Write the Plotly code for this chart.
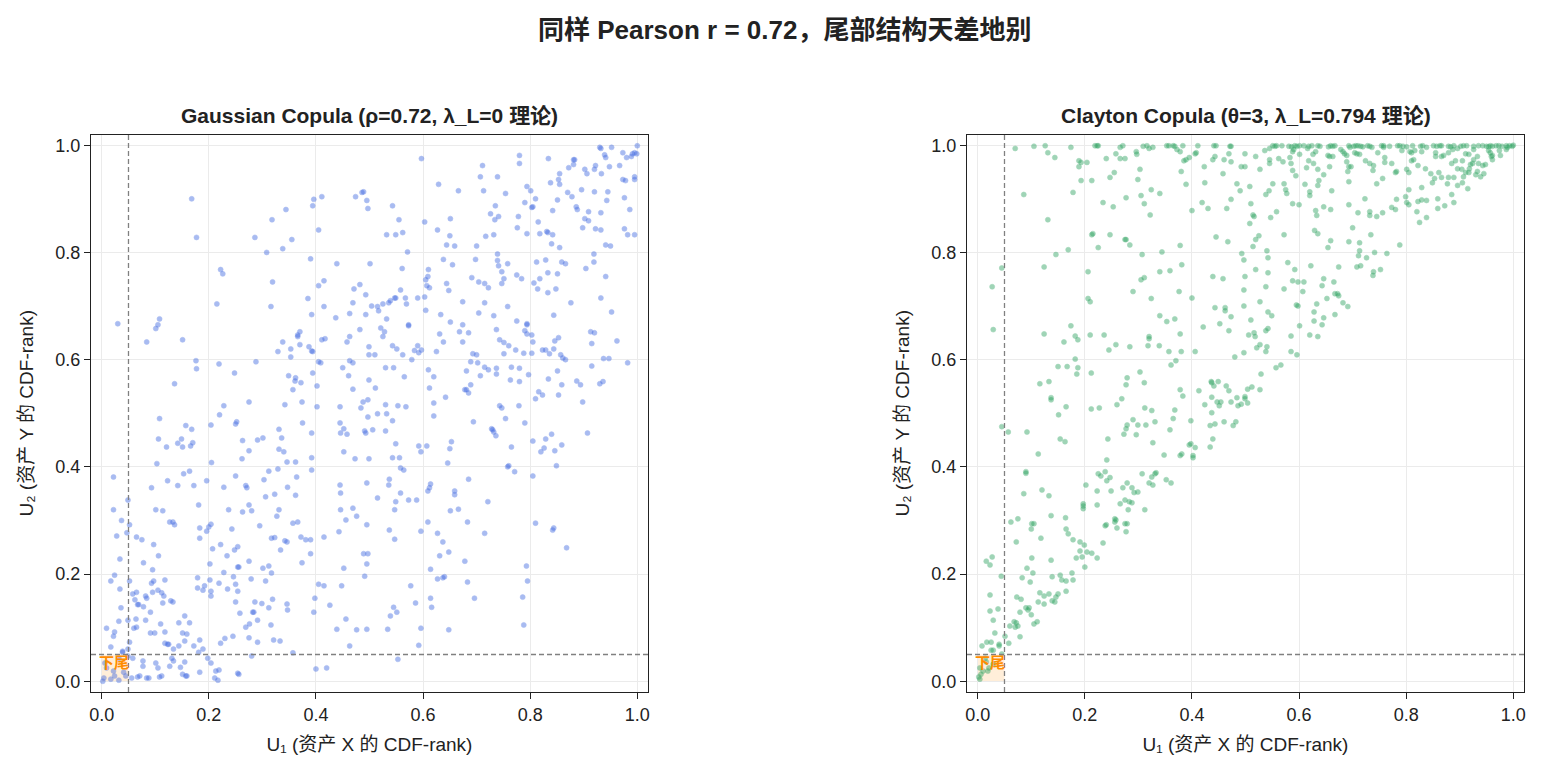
import plotly.graph_objects as go

# ---- text ----
SUPTITLE = "同样 Pearson r = 0.72，尾部结构天差地别"
PANEL_TITLES = ["Gaussian Copula (ρ=0.72, λ_L=0 理论)",
                "Clayton Copula (θ=3, λ_L=0.794 理论)"]
X_LABEL = "U₁ (资产 X 的 CDF-rank)"
Y_LABEL = "U₂ (资产 Y 的 CDF-rank)"
TAIL_LABEL = "下尾"
TAIL_Q = 0.05
TICKS = [0.0, 0.2, 0.4, 0.6, 0.8, 1.0]

# ---- Gaussian copula sample (in groups) ----
g_u1_a = [0.168, 0.177, 0.286, 0.318, 0.344, 0.355, 0.338, 0.308, 0.394, 0.396, 0.411, 0.405, 0.390, 0.439, 0.474, 0.486, 0.489, 0.495, 0.497,
          0.222, 0.226, 0.319, 0.215, 0.316, 0.415, 0.405, 0.385, 0.415, 0.392, 0.437, 0.471, 0.482, 0.493, 0.469, 0.463, 0.493, 0.482, 0.463, 0.458,
          0.030, 0.108, 0.105, 0.101, 0.084, 0.151, 0.370, 0.366, 0.366, 0.338, 0.329, 0.353, 0.370, 0.353, 0.387, 0.392, 0.394, 0.411, 0.417,
          0.176, 0.177, 0.219, 0.288, 0.248, 0.136, 0.349, 0.362, 0.361, 0.372, 0.357, 0.394, 0.402, 0.405, 0.409, 0.450, 0.461, 0.463, 0.469, 0.469, 0.499, 0.499, 0.499,
          0.228, 0.275, 0.342, 0.374, 0.402, 0.445, 0.488, 0.484, 0.497, 0.501]
g_u2_a = [0.900, 0.828, 0.828, 0.861, 0.880, 0.824, 0.807, 0.800, 0.887, 0.899, 0.904, 0.842, 0.788, 0.779, 0.904, 0.912, 0.913, 0.897, 0.882,
          0.768, 0.760, 0.745, 0.704, 0.699, 0.747, 0.738, 0.714, 0.699, 0.684, 0.678, 0.732, 0.740, 0.721, 0.706, 0.686, 0.684, 0.656, 0.643, 0.633,
          0.667, 0.676, 0.665, 0.658, 0.633, 0.637, 0.652, 0.646, 0.643, 0.633, 0.615, 0.620, 0.628, 0.605, 0.624, 0.616, 0.615, 0.637, 0.639,
          0.598, 0.583, 0.592, 0.596, 0.575, 0.555, 0.570, 0.566, 0.560, 0.557, 0.544, 0.575, 0.551, 0.596, 0.594, 0.585, 0.570, 0.598, 0.594, 0.545, 0.624, 0.609, 0.562,
          0.514, 0.521, 0.516, 0.521, 0.512, 0.512, 0.521, 0.510, 0.525, 0.779]

g_u1_b = [0.930, 0.932, 0.952, 1.000, 0.995, 0.999, 0.991, 0.989, 0.980, 0.973, 0.939, 0.941, 0.933, 0.948, 0.967, 0.973, 0.978, 0.995, 0.995,
          0.976, 0.986, 0.982, 0.995, 0.976, 0.941, 0.950, 0.932, 0.922, 0.932, 0.943, 0.945, 0.920, 0.922, 0.920, 0.902, 0.906, 0.896, 0.881, 0.883,
          0.881, 0.872, 0.855, 0.853, 0.855, 0.838, 0.834, 0.780, 0.780,
          0.870, 0.878, 0.851, 0.886, 0.888, 0.909, 0.902, 0.909, 0.898, 0.842, 0.815, 0.831, 0.833, 0.842, 0.818, 0.840, 0.855, 0.794, 0.801, 0.810,
          0.790, 0.803, 0.805, 0.778, 0.776, 0.794,
          0.754, 0.739, 0.735, 0.741, 0.734, 0.726, 0.732, 0.717, 0.711, 0.707, 0.713, 0.666, 0.629, 0.597, 0.651, 0.627, 0.650, 0.644, 0.659, 0.700,
          0.603, 0.543, 0.555, 0.532, 0.549, 0.562]
g_u2_b = [0.996, 0.994, 0.996, 0.999, 0.986, 0.984, 0.984, 0.979, 0.977, 0.986, 0.982, 0.977, 0.947, 0.960, 0.962, 0.936, 0.934, 0.941, 0.936,
          0.902, 0.880, 0.833, 0.833, 0.844, 0.814, 0.812, 0.842, 0.844, 0.874, 0.897, 0.913, 0.913, 0.962, 0.955, 0.955, 0.947, 0.917, 0.973, 0.973,
          0.964, 0.958, 0.947, 0.936, 0.927, 0.930, 0.975, 0.981, 0.966,
          0.912, 0.904, 0.898, 0.885, 0.880, 0.876, 0.863, 0.859, 0.846, 0.878, 0.857, 0.839, 0.837, 0.833, 0.835, 0.816, 0.809, 0.923, 0.915, 0.900,
          0.893, 0.884, 0.885, 0.867, 0.846, 0.835,
          0.910, 0.941, 0.887, 0.867, 0.861, 0.872, 0.833, 0.830, 0.962, 0.941, 0.915, 0.915, 0.927, 0.975, 0.863, 0.842, 0.831, 0.814, 0.812, 0.812,
          0.857, 0.887, 0.861, 0.833, 0.833, 0.837]

g_u1_c = [0.571, 0.561, 0.638, 0.655, 0.610, 0.609, 0.605, 0.607, 0.612, 0.698, 0.739, 0.739, 0.741, 0.758, 0.747, 0.751, 0.747, 0.775, 0.784, 0.691,
          0.704, 0.715, 0.722, 0.644, 0.648, 0.674, 0.715, 0.704, 0.732, 0.758,
          0.812, 0.829, 0.833, 0.851, 0.859, 0.866, 0.818, 0.807, 0.814, 0.833, 0.848, 0.876, 0.844, 0.904, 0.919, 0.919, 0.941, 0.932, 0.952,
          0.775, 0.794, 0.794, 0.790, 0.794, 0.803, 0.805, 0.737, 0.743, 0.751, 0.760, 0.773, 0.788, 0.803, 0.751, 0.823, 0.829, 0.836, 0.844, 0.846,
          0.853, 0.857, 0.861, 0.866, 0.913, 0.920, 0.915, 0.962, 0.937, 0.947, 0.982, 0.915]
g_u2_c = [0.801, 0.770, 0.787, 0.777, 0.768, 0.755, 0.749, 0.738, 0.734, 0.787, 0.797, 0.785, 0.775, 0.779, 0.764, 0.751, 0.742, 0.758, 0.751, 0.753,
          0.745, 0.742, 0.734, 0.742, 0.729, 0.708, 0.706, 0.687, 0.682, 0.699,
          0.782, 0.786, 0.762, 0.760, 0.782, 0.779, 0.751, 0.743, 0.732, 0.725, 0.732, 0.706, 0.683, 0.770, 0.782, 0.797, 0.755, 0.715, 0.689,
          0.672, 0.665, 0.667, 0.654, 0.648, 0.646, 0.633, 0.656, 0.637, 0.632, 0.626, 0.618, 0.612, 0.612, 0.611, 0.618, 0.618, 0.611, 0.620, 0.635,
          0.641, 0.609, 0.603, 0.600, 0.652, 0.650, 0.630, 0.635, 0.602, 0.602, 0.594, 0.588]

g_u1_d = [0.851, 0.834, 0.797, 0.763, 0.780, 0.765, 0.780, 0.737, 0.737, 0.715, 0.722, 0.707, 0.689, 0.702, 0.681, 0.693, 0.700, 0.689, 0.678, 0.681,
          0.685, 0.642, 0.620, 0.610, 0.620, 0.612, 0.625,
          0.638, 0.631, 0.651, 0.674, 0.668, 0.685, 0.674, 0.633, 0.605, 0.603, 0.590, 0.567, 0.569, 0.549, 0.547, 0.558, 0.536, 0.539, 0.525, 0.515,
          0.517, 0.504, 0.532, 0.521, 0.528, 0.525, 0.573, 0.573,
          0.543, 0.551, 0.510, 0.562, 0.579, 0.584, 0.590, 0.592, 0.597, 0.530, 0.545, 0.565, 0.511, 0.530, 0.553, 0.568, 0.743, 0.747, 0.779, 0.810,
          0.816, 0.823, 0.853, 0.859, 0.887, 0.894, 0.898, 0.930, 0.936]
g_u2_d = [0.579, 0.564, 0.572, 0.562, 0.559, 0.586, 0.584, 0.584, 0.573, 0.586, 0.581, 0.570, 0.596, 0.594, 0.579, 0.611, 0.609, 0.553, 0.544, 0.544,
          0.538, 0.530, 0.519, 0.581, 0.568, 0.547, 0.615,
          0.633, 0.648, 0.670, 0.665, 0.652, 0.650, 0.633, 0.684, 0.692, 0.717, 0.715, 0.715, 0.704, 0.715, 0.715, 0.730, 0.706, 0.710, 0.704, 0.699,
          0.691, 0.700, 0.676, 0.659, 0.652, 0.643, 0.665, 0.663,
          0.626, 0.620, 0.609, 0.609, 0.600, 0.617, 0.626, 0.613, 0.618, 0.585, 0.585, 0.568, 0.547, 0.516, 0.514, 0.512, 0.514, 0.510, 0.514, 0.527,
          0.540, 0.534, 0.534, 0.553, 0.560, 0.553, 0.521, 0.555, 0.559]

g_u1_e = [0.497, 0.108, 0.220, 0.204, 0.157, 0.168, 0.149, 0.142, 0.151, 0.166, 0.170, 0.106, 0.121, 0.250, 0.252, 0.263, 0.275, 0.262, 0.291, 0.301,
          0.331, 0.336, 0.331, 0.340, 0.329, 0.375, 0.392, 0.392, 0.392, 0.346, 0.362, 0.445, 0.452, 0.446, 0.458, 0.452, 0.473, 0.493, 0.491, 0.499,
          0.205, 0.103, 0.022,
          0.093, 0.123, 0.142, 0.153, 0.164, 0.172, 0.196, 0.228, 0.250, 0.269, 0.271, 0.303, 0.312, 0.306, 0.323, 0.347, 0.362, 0.364,
          0.445, 0.446, 0.446, 0.456, 0.469, 0.476, 0.495, 0.495, 0.049, 0.022, 0.037, 0.028, 0.047, 0.052, 0.101, 0.114, 0.127, 0.133, 0.136, 0.181,
          0.183, 0.183, 0.196, 0.200, 0.204, 0.237, 0.275, 0.280, 0.263, 0.243, 0.295, 0.317, 0.323, 0.331, 0.327, 0.334, 0.342, 0.346]
g_u2_e = [0.493, 0.490, 0.497, 0.478, 0.477, 0.470, 0.452, 0.444, 0.437, 0.439, 0.445, 0.452, 0.437, 0.480, 0.484, 0.449, 0.430, 0.415, 0.450, 0.454,
          0.470, 0.454, 0.433, 0.428, 0.396, 0.482, 0.463, 0.417, 0.394, 0.409, 0.409, 0.482, 0.471, 0.463, 0.461, 0.428, 0.415, 0.463, 0.467, 0.415,
          0.408, 0.406, 0.381,
          0.361, 0.374, 0.365, 0.387, 0.392, 0.365, 0.374, 0.362, 0.383, 0.365, 0.361, 0.376, 0.392, 0.344, 0.349, 0.362, 0.347, 0.381,
          0.366, 0.351, 0.320, 0.301, 0.323, 0.308, 0.370, 0.292, 0.338, 0.320, 0.300, 0.271, 0.277, 0.292, 0.320, 0.318, 0.297, 0.297, 0.292, 0.329,
          0.286, 0.267, 0.280, 0.288, 0.293, 0.320, 0.329, 0.318, 0.316, 0.284, 0.290, 0.267, 0.268, 0.320, 0.308, 0.245, 0.262, 0.260]

g_u1_f = [0.357, 0.366, 0.372, 0.381, 0.390, 0.390, 0.374, 0.415, 0.443, 0.452, 0.489, 0.497, 0.495, 0.491, 0.065, 0.075, 0.097, 0.106, 0.078, 0.095,
          0.207, 0.202, 0.222, 0.234, 0.248, 0.254, 0.254, 0.256, 0.275, 0.228, 0.246, 0.301, 0.312, 0.317, 0.279, 0.306,
          0.017, 0.024, 0.034, 0.034, 0.052, 0.036, 0.032, 0.009, 0.024, 0.022, 0.017,
          0.058, 0.065, 0.062, 0.067, 0.082, 0.084, 0.069, 0.078, 0.093, 0.097, 0.095, 0.105, 0.112, 0.116, 0.114, 0.129, 0.133,
          0.118, 0.091, 0.082, 0.064, 0.065, 0.060, 0.049, 0.179, 0.179, 0.189, 0.192, 0.202, 0.204, 0.204,
          0.219, 0.235, 0.250, 0.254, 0.250, 0.258, 0.269, 0.276, 0.282, 0.284, 0.286, 0.291, 0.299, 0.319, 0.312, 0.316, 0.346, 0.347, 0.321, 0.333,
          0.275, 0.291]
g_u2_f = [0.295, 0.297, 0.269, 0.264, 0.264, 0.238, 0.221, 0.269, 0.279, 0.211, 0.238, 0.238, 0.219, 0.196, 0.269, 0.264, 0.255, 0.234, 0.221, 0.208,
          0.247, 0.219, 0.255, 0.234, 0.245, 0.251, 0.213, 0.213, 0.224, 0.203, 0.195, 0.211, 0.215, 0.202, 0.191, 0.187,
          0.187, 0.198, 0.228, 0.172, 0.187, 0.137, 0.112, 0.099, 0.092, 0.084, 0.064,
          0.163, 0.166, 0.152, 0.143, 0.159, 0.155, 0.143, 0.139, 0.183, 0.187, 0.166, 0.170, 0.165, 0.159, 0.146, 0.150, 0.148,
          0.189, 0.129, 0.114, 0.116, 0.101, 0.099, 0.114, 0.193, 0.174, 0.170, 0.178, 0.189, 0.168, 0.159,
          0.183, 0.172, 0.181, 0.168, 0.148, 0.127, 0.101, 0.107, 0.129, 0.129, 0.148, 0.114, 0.145, 0.153, 0.137, 0.105, 0.144, 0.133, 0.077, 0.075,
          0.081, 0.073]

g_u1_g = [0.398, 0.396, 0.405, 0.415, 0.426, 0.448, 0.456, 0.439, 0.476, 0.495, 0.463, 0.110, 0.118, 0.091, 0.099, 0.144, 0.164, 0.155, 0.151, 0.159,
          0.118, 0.123, 0.125, 0.134, 0.144, 0.155, 0.172, 0.183, 0.181, 0.189, 0.222, 0.230, 0.245,
          0.049, 0.052, 0.039, 0.058, 0.077, 0.077, 0.101, 0.105, 0.131, 0.134, 0.127, 0.155,
          0.147, 0.151, 0.157, 0.159, 0.183, 0.198, 0.204, 0.211, 0.217, 0.219, 0.213, 0.254, 0.256, 0.280, 0.357, 0.400, 0.420,
          0.056, 0.067, 0.071, 0.084, 0.088, 0.108, 0.112, 0.004, 0.002, 0.017, 0.024, 0.032, 0.041, 0.045, 0.022, 0.009, 0.006, 0.032, 0.039, 0.049]
g_u2_g = [0.155, 0.129, 0.181, 0.178, 0.142, 0.178, 0.116, 0.097, 0.096, 0.097, 0.066, 0.107, 0.092, 0.090, 0.090, 0.109, 0.109, 0.122, 0.090, 0.088,
          0.071, 0.069, 0.069, 0.060, 0.066, 0.075, 0.066, 0.077, 0.054, 0.060, 0.071, 0.080, 0.084,
          0.060, 0.073, 0.054, 0.043, 0.038, 0.028, 0.034, 0.025, 0.043, 0.038, 0.028, 0.036,
          0.026, 0.013, 0.010, 0.010, 0.017, 0.043, 0.034, 0.006, 0.002, 0.021, 0.019, 0.015, 0.013, 0.047, 0.053, 0.023, 0.025,
          0.006, 0.008, 0.010, 0.006, 0.006, 0.008, 0.010, 0.006, 0.000, 0.004, 0.010, 0.002, 0.017, 0.010, 0.019, 0.025, 0.034, 0.043, 0.056, 0.047]

g_u1_h = [0.515, 0.532, 0.543, 0.530, 0.506, 0.549, 0.543, 0.556, 0.558, 0.564, 0.592, 0.596, 0.607, 0.620, 0.653, 0.650, 0.646, 0.694,
          0.728, 0.730, 0.732, 0.736, 0.754, 0.790, 0.765, 0.758, 0.760, 0.771, 0.805, 0.820, 0.826, 0.829, 0.840, 0.846, 0.849, 0.859, 0.805, 0.907,
          0.537, 0.536, 0.558, 0.515, 0.549, 0.547, 0.573, 0.588, 0.614, 0.612, 0.609, 0.659, 0.659, 0.685, 0.651, 0.666, 0.721,
          0.537, 0.547, 0.596, 0.609, 0.627, 0.637, 0.648, 0.631, 0.678, 0.683, 0.715, 0.810, 0.842, 0.844, 0.868,
          0.614, 0.627, 0.637, 0.640, 0.683, 0.577, 0.586, 0.545, 0.551, 0.539, 0.614, 0.616, 0.696, 0.793, 0.795, 0.786, 0.788, 0.534, 0.596, 0.648,
          0.592, 0.553]
g_u2_h = [0.499, 0.499, 0.486, 0.467, 0.469, 0.443, 0.417, 0.417, 0.398, 0.394, 0.439, 0.428, 0.439, 0.495, 0.447, 0.434, 0.407, 0.484,
          0.471, 0.469, 0.465, 0.458, 0.490, 0.482, 0.437, 0.400, 0.402, 0.391, 0.448, 0.428, 0.435, 0.452, 0.461, 0.430, 0.402, 0.441, 0.383, 0.463,
          0.377, 0.366, 0.351, 0.342, 0.335, 0.320, 0.338, 0.338, 0.368, 0.361, 0.355, 0.355, 0.348, 0.377, 0.318, 0.321, 0.335,
          0.282, 0.265, 0.280, 0.297, 0.276, 0.260, 0.241, 0.234, 0.224, 0.297, 0.276, 0.295, 0.282, 0.286, 0.249,
          0.209, 0.191, 0.193, 0.195, 0.185, 0.178, 0.146, 0.138, 0.129, 0.122, 0.155, 0.138, 0.155, 0.215, 0.187, 0.157, 0.105, 0.097, 0.099, 0.096,
          0.067, 0.041]

# ---- Clayton copula sample ----
c_u1_a = [0.070, 0.105, 0.126, 0.131, 0.144, 0.174, 0.189, 0.193, 0.189, 0.204, 0.219, 0.223, 0.225, 0.240, 0.258, 0.266, 0.271, 0.266, 0.275, 0.296,
          0.297, 0.309, 0.316, 0.320, 0.327, 0.353, 0.357, 0.365, 0.368, 0.372, 0.378, 0.383, 0.385, 0.389, 0.395, 0.406, 0.408, 0.411, 0.423, 0.439,
          0.443, 0.441, 0.445, 0.460, 0.469, 0.471, 0.473, 0.473, 0.492, 0.499, 0.499,
          0.086, 0.131, 0.178, 0.193, 0.213, 0.247, 0.255, 0.234, 0.253, 0.277, 0.299, 0.303, 0.305, 0.311, 0.324, 0.340, 0.322, 0.380, 0.389, 0.400,
          0.419, 0.430, 0.424, 0.458, 0.484, 0.490, 0.473, 0.465]
c_u2_a = [0.994, 0.998, 0.999, 0.986, 0.977, 0.996, 0.971, 0.968, 0.960, 0.968, 0.999, 0.999, 0.999, 0.975, 0.984, 0.996, 0.999, 0.975, 0.975, 0.988,
          0.983, 0.998, 0.999, 0.994, 0.996, 0.999, 0.999, 0.999, 0.998, 0.992, 0.988, 0.999, 0.971, 0.973, 0.977, 0.984, 0.986, 0.999, 0.960, 0.973,
          0.979, 0.999, 0.999, 0.973, 0.984, 0.998, 0.998, 0.969, 0.960, 0.984, 0.960,
          0.908, 0.861, 0.912, 0.934, 0.934, 0.940, 0.949, 0.893, 0.885, 0.902, 0.936, 0.955, 0.906, 0.891, 0.917, 0.910, 0.870, 0.951, 0.927, 0.878,
          0.893, 0.882, 0.930, 0.947, 0.928, 0.915, 0.899, 0.882]

c_u1_b = [0.213, 0.215, 0.247, 0.275, 0.277, 0.284, 0.225, 0.169, 0.146, 0.307, 0.344, 0.378, 0.445, 0.467, 0.493, 0.497, 0.045, 0.027, 0.124, 0.206,
          0.305, 0.311, 0.340, 0.359, 0.381, 0.290, 0.324, 0.376, 0.400, 0.439, 0.458, 0.499, 0.497,
          0.206, 0.210, 0.443, 0.462, 0.462, 0.473, 0.452, 0.469, 0.497, 0.340, 0.353, 0.368, 0.029, 0.124, 0.174, 0.161, 0.182, 0.187, 0.210, 0.236,
          0.245, 0.258, 0.284, 0.320, 0.320, 0.318, 0.339, 0.378, 0.421,
          0.357, 0.380, 0.406, 0.370, 0.361, 0.480, 0.497, 0.182, 0.150, 0.167, 0.187, 0.185, 0.212, 0.116, 0.133, 0.137, 0.137, 0.165, 0.212, 0.227,
          0.260, 0.269, 0.279, 0.277, 0.303, 0.311, 0.312, 0.368, 0.378, 0.383, 0.413, 0.424,
          0.436, 0.437, 0.441, 0.449, 0.464, 0.469, 0.437, 0.447, 0.451, 0.454, 0.473, 0.484, 0.486, 0.499, 0.492]
c_u2_b = [0.833, 0.835, 0.833, 0.824, 0.824, 0.814, 0.809, 0.805, 0.796, 0.796, 0.801, 0.813, 0.829, 0.820, 0.798, 0.786, 0.771, 0.736, 0.773, 0.764,
          0.749, 0.753, 0.764, 0.766, 0.777, 0.727, 0.714, 0.727, 0.715, 0.755, 0.751, 0.755, 0.730,
          0.714, 0.708, 0.697, 0.697, 0.691, 0.680, 0.667, 0.654, 0.700, 0.682, 0.671, 0.676, 0.656, 0.648, 0.663, 0.633, 0.644, 0.637, 0.646, 0.646,
          0.618, 0.628, 0.624, 0.643, 0.639, 0.626, 0.626, 0.648, 0.661,
          0.615, 0.615, 0.615, 0.598, 0.590, 0.605, 0.613, 0.601, 0.587, 0.587, 0.585, 0.573, 0.575, 0.555, 0.559, 0.529, 0.525, 0.512, 0.508, 0.510,
          0.516, 0.527, 0.566, 0.553, 0.577, 0.557, 0.510, 0.506, 0.544, 0.532, 0.542, 0.516,
          0.559, 0.557, 0.551, 0.559, 0.551, 0.542, 0.530, 0.521, 0.514, 0.521, 0.521, 0.529, 0.514, 0.531, 0.517]

c_u1_c = [0.551, 0.555, 0.558, 0.568, 0.581, 0.586, 0.592, 0.596, 0.601, 0.609, 0.618, 0.624, 0.635, 0.639, 0.655, 0.659, 0.663, 0.667, 0.693, 0.702,
          0.706, 0.710, 0.715, 0.719, 0.728, 0.732, 0.754, 0.758, 0.769, 0.784, 0.788, 0.794, 0.801, 0.812, 0.827, 0.831, 0.851, 0.857, 0.863, 0.866,
          0.879, 0.883, 0.889, 0.902, 0.907, 0.913, 0.926, 0.935, 0.943, 0.950, 0.954, 0.957, 0.961, 0.968, 0.973, 0.979, 0.987, 0.993, 0.998, 1.000,
          0.536, 0.545, 0.519, 0.588, 0.590, 0.601, 0.616, 0.626, 0.631, 0.654, 0.657, 0.663, 0.678, 0.682, 0.685, 0.689, 0.695, 0.704, 0.708, 0.713,
          0.736, 0.747, 0.760, 0.758, 0.792, 0.807, 0.810, 0.816, 0.829, 0.838, 0.855, 0.855, 0.866, 0.870, 0.879, 0.887, 0.896, 0.911, 0.917, 0.926,
          0.933, 0.954, 0.957, 0.961, 0.974, 0.976, 0.987, 0.989]
c_u2_c = [0.999, 0.998, 0.999, 0.999, 0.998, 0.997, 0.999, 0.998, 0.999, 0.999, 0.998, 0.999, 0.999, 0.998, 0.997, 0.999, 0.998, 0.999, 0.999, 0.998,
          0.999, 0.999, 0.998, 0.997, 0.999, 0.998, 0.999, 0.999, 0.998, 0.999, 0.999, 0.998, 0.997, 0.999, 0.998, 0.999, 0.999, 0.998, 0.999, 0.999,
          0.998, 0.997, 0.999, 0.998, 0.999, 0.999, 0.998, 0.999, 0.999, 0.998, 0.997, 0.999, 0.998, 0.999, 0.999, 0.998, 0.999, 0.999, 0.998, 1.000,
          0.990, 0.994, 0.979, 0.988, 0.992, 0.983, 0.994, 0.983, 0.988, 0.981, 0.979, 0.979, 0.992, 0.988, 0.984, 0.981, 0.996, 0.986, 0.984, 0.983,
          0.996, 0.986, 0.977, 0.996, 0.990, 0.988, 0.986, 0.990, 0.988, 0.996, 0.986, 0.979, 0.979, 0.981, 0.986, 0.992, 0.994, 0.984, 0.983, 0.992,
          0.979, 0.990, 0.986, 0.981, 0.990, 0.981, 0.992, 0.996]

c_u1_d = [0.545, 0.545, 0.562, 0.570, 0.583, 0.585, 0.588, 0.594, 0.618, 0.614, 0.627, 0.635, 0.646, 0.637, 0.635, 0.657, 0.689, 0.693, 0.697, 0.691,
          0.724, 0.732, 0.739, 0.738, 0.760, 0.773, 0.756, 0.745, 0.780, 0.782, 0.801, 0.805, 0.810, 0.814, 0.822, 0.836, 0.846, 0.853, 0.861, 0.866,
          0.879, 0.877, 0.889, 0.885, 0.892, 0.896, 0.905, 0.904, 0.911, 0.918, 0.917, 0.920, 0.926, 0.924, 0.933, 0.935, 0.943, 0.948, 0.945, 0.939,
          0.930, 0.959, 0.961, 0.907, 0.896, 0.905, 0.915, 0.849, 0.829, 0.693, 0.527, 0.508, 0.551, 0.572, 0.538, 0.544, 0.575, 0.577, 0.611]
c_u2_d = [0.973, 0.966, 0.975, 0.969, 0.977, 0.966, 0.953, 0.943, 0.971, 0.958, 0.966, 0.955, 0.945, 0.934, 0.925, 0.960, 0.969, 0.960, 0.960, 0.951,
          0.971, 0.966, 0.962, 0.953, 0.968, 0.966, 0.938, 0.928, 0.949, 0.951, 0.955, 0.949, 0.971, 0.973, 0.962, 0.956, 0.947, 0.938, 0.949, 0.940,
          0.940, 0.928, 0.940, 0.966, 0.971, 0.956, 0.971, 0.955, 0.949, 0.956, 0.949, 0.964, 0.973, 0.966, 0.951, 0.966, 0.962, 0.964, 0.947, 0.941,
          0.945, 0.979, 0.973, 0.941, 0.925, 0.930, 0.919, 0.930, 0.921, 0.932, 0.955, 0.923, 0.928, 0.928, 0.908, 0.915, 0.917, 0.910, 0.927]

c_u1_e = [0.620, 0.620, 0.661, 0.588, 0.600, 0.631, 0.633, 0.646, 0.659, 0.693, 0.723, 0.710, 0.732, 0.732, 0.745, 0.756, 0.773, 0.780, 0.782, 0.799,
          0.801, 0.805, 0.820, 0.822, 0.829, 0.838, 0.825, 0.838, 0.859, 0.859, 0.872, 0.885, 0.889, 0.805, 0.510, 0.514, 0.516, 0.508, 0.547, 0.558,
          0.525, 0.519, 0.514, 0.572, 0.540, 0.542, 0.629, 0.635, 0.700, 0.734, 0.659, 0.654, 0.693, 0.713, 0.713, 0.711, 0.726, 0.741, 0.764, 0.788,
          0.579, 0.592, 0.622, 0.674, 0.708, 0.715, 0.752, 0.739, 0.738, 0.519, 0.542, 0.538, 0.572, 0.588, 0.598, 0.609, 0.607, 0.646, 0.643, 0.665,
          0.667, 0.672, 0.674, 0.652, 0.633, 0.682, 0.691, 0.527, 0.542, 0.549, 0.595, 0.598, 0.628, 0.628, 0.646, 0.643, 0.667, 0.601, 0.510, 0.506,
          0.516, 0.518, 0.538, 0.542, 0.585, 0.620, 0.635, 0.527, 0.521, 0.540, 0.538, 0.585, 0.596,
          0.557, 0.566, 0.529, 0.504, 0.512, 0.527, 0.499, 0.504]
c_u2_e = [0.913, 0.906, 0.915, 0.891, 0.889, 0.878, 0.869, 0.885, 0.880, 0.889, 0.900, 0.874, 0.876, 0.869, 0.867, 0.874, 0.884, 0.880, 0.899, 0.904,
          0.893, 0.889, 0.876, 0.895, 0.898, 0.897, 0.856, 0.865, 0.900, 0.882, 0.887, 0.908, 0.893, 0.917, 0.891, 0.870, 0.867, 0.854, 0.865, 0.876,
          0.831, 0.824, 0.811, 0.833, 0.803, 0.790, 0.841, 0.835, 0.846, 0.833, 0.822, 0.809, 0.820, 0.818, 0.803, 0.794, 0.790, 0.800, 0.798, 0.814,
          0.781, 0.768, 0.775, 0.773, 0.773, 0.775, 0.768, 0.764, 0.757, 0.768, 0.762, 0.736, 0.732, 0.747, 0.745, 0.745, 0.727, 0.751, 0.738, 0.745,
          0.723, 0.723, 0.719, 0.714, 0.704, 0.706, 0.699, 0.708, 0.689, 0.682, 0.702, 0.700, 0.689, 0.672, 0.678, 0.665, 0.684, 0.663, 0.674, 0.646,
          0.650, 0.643, 0.654, 0.658, 0.644, 0.646, 0.643, 0.628, 0.622, 0.624, 0.615, 0.615, 0.609,
          0.585, 0.590, 0.573, 0.545, 0.549, 0.544, 0.527, 0.519]

c_u1_f = [0.437, 0.325, 0.151, 0.154, 0.163, 0.092, 0.057, 0.045, 0.113, 0.243, 0.241, 0.273, 0.277, 0.279, 0.290, 0.299, 0.296, 0.314, 0.331, 0.327,
          0.359, 0.365, 0.398, 0.348, 0.378, 0.381, 0.395, 0.398, 0.406, 0.402, 0.402, 0.434, 0.443, 0.460, 0.477, 0.482, 0.439, 0.434,
          0.090, 0.090, 0.086, 0.120, 0.133, 0.137, 0.062, 0.075, 0.100, 0.101, 0.105, 0.118, 0.072, 0.164, 0.165, 0.169, 0.178, 0.191, 0.199, 0.191,
          0.195, 0.184, 0.204, 0.213, 0.200, 0.223, 0.234, 0.197, 0.197, 0.197, 0.202, 0.223, 0.223, 0.225, 0.230, 0.238, 0.241, 0.247, 0.249, 0.266,
          0.271, 0.275, 0.279, 0.283, 0.288, 0.288, 0.292, 0.299, 0.281, 0.307, 0.312, 0.320, 0.325, 0.327, 0.331, 0.333, 0.352, 0.361, 0.238, 0.240,
          0.256, 0.256, 0.258, 0.260, 0.275, 0.279, 0.277]
c_u2_f = [0.501, 0.505, 0.497, 0.452, 0.447, 0.465, 0.465, 0.475, 0.424, 0.452, 0.413, 0.461, 0.471, 0.478, 0.488, 0.478, 0.460, 0.478, 0.484, 0.445,
          0.469, 0.490, 0.486, 0.422, 0.421, 0.424, 0.441, 0.443, 0.436, 0.421, 0.417, 0.477, 0.480, 0.484, 0.477, 0.484, 0.452, 0.437,
          0.391, 0.388, 0.350, 0.357, 0.346, 0.309, 0.297, 0.303, 0.284, 0.294, 0.294, 0.267, 0.260, 0.305, 0.284, 0.275, 0.264, 0.260, 0.254, 0.243,
          0.232, 0.230, 0.241, 0.239, 0.213, 0.230, 0.258, 0.331, 0.327, 0.322, 0.366, 0.355, 0.329, 0.387, 0.383, 0.391, 0.374, 0.380, 0.355, 0.331,
          0.361, 0.338, 0.370, 0.335, 0.333, 0.361, 0.352, 0.353, 0.320, 0.387, 0.320, 0.370, 0.381, 0.366, 0.387, 0.389, 0.376, 0.370, 0.290, 0.292,
          0.303, 0.297, 0.301, 0.286, 0.294, 0.294, 0.279]

c_u1_g = [0.016, 0.023, 0.027, 0.044, 0.023, 0.023, 0.038, 0.029, 0.032, 0.008, 0.017, 0.025, 0.025, 0.029, 0.040, 0.040, 0.051, 0.058, 0.060, 0.068,
          0.072, 0.070, 0.075, 0.079, 0.073, 0.081, 0.079, 0.090, 0.094, 0.096, 0.100, 0.105, 0.111, 0.083, 0.092, 0.098, 0.103, 0.101, 0.113, 0.116,
          0.124, 0.124, 0.133, 0.139, 0.144, 0.146, 0.150, 0.137, 0.139, 0.154, 0.157, 0.165, 0.165, 0.176, 0.178,
          0.004, 0.002, 0.006, 0.010, 0.004, 0.014, 0.019, 0.021, 0.029, 0.016, 0.045]
c_u2_g = [0.224, 0.217, 0.232, 0.196, 0.161, 0.131, 0.135, 0.114, 0.090, 0.066, 0.073, 0.073, 0.058, 0.058, 0.069, 0.066, 0.084, 0.071, 0.103, 0.111,
          0.109, 0.101, 0.103, 0.083, 0.157, 0.153, 0.129, 0.137, 0.133, 0.137, 0.124, 0.107, 0.111, 0.193, 0.211, 0.185, 0.202, 0.230, 0.148, 0.165,
          0.159, 0.144, 0.163, 0.150, 0.148, 0.157, 0.163, 0.226, 0.195, 0.198, 0.189, 0.187, 0.168, 0.202, 0.189,
          0.004, 0.008, 0.013, 0.019, 0.025, 0.043, 0.019, 0.025, 0.032, 0.036, 0.051]

gauss_u1 = g_u1_a + g_u1_b + g_u1_c + g_u1_d + g_u1_e + g_u1_f + g_u1_g + g_u1_h
gauss_u2 = g_u2_a + g_u2_b + g_u2_c + g_u2_d + g_u2_e + g_u2_f + g_u2_g + g_u2_h
clay_u1 = c_u1_a + c_u1_b + c_u1_c + c_u1_d + c_u1_e + c_u1_f + c_u1_g
clay_u2 = c_u2_a + c_u2_b + c_u2_c + c_u2_d + c_u2_e + c_u2_f + c_u2_g

FONT = "Liberation Sans, Noto Sans CJK SC, sans-serif"
W, H = 1541, 772
OFF = 8  # page margin in front of the plot div


def px_x(p):
    return (p - OFF) / W


def px_y(p):
    return 1 - (p - OFF) / H


fig = go.Figure()
fig.add_trace(go.Scatter(x=gauss_u1, y=gauss_u2, mode="markers", xaxis="x", yaxis="y",
                         marker=dict(size=5, color="#4169E1", opacity=0.45,
                                     line=dict(width=0.6, color="#4169E1")),
                         showlegend=False, hoverinfo="skip"))
fig.add_trace(go.Scatter(x=clay_u1, y=clay_u2, mode="markers", xaxis="x2", yaxis="y2",
                         marker=dict(size=5, color="#2ca25f", opacity=0.45,
                                     line=dict(width=0.6, color="#2ca25f")),
                         showlegend=False, hoverinfo="skip"))

axis_style = dict(range=[-0.02, 1.02], tickvals=TICKS, tickformat=".1f",
                  showgrid=True, gridcolor="#ebebeb", gridwidth=1, zeroline=False,
                  showline=True, linecolor="#222222", linewidth=1.3, mirror=True,
                  ticks="outside", ticklen=6, tickwidth=1.2, tickcolor="#222222",
                  tickfont=dict(size=18, color="#222222"), automargin=False)

y_dom = [px_y(692), px_y(134.5)]
dom_l = [px_x(91), px_x(648)]
dom_r = [px_x(967), px_x(1524)]
fig.update_layout(
    width=W, height=H, paper_bgcolor="white", plot_bgcolor="white",
    margin=dict(l=0, r=0, t=0, b=0),
    font=dict(family=FONT, color="#222222"),
    xaxis=dict(axis_style, domain=dom_l, anchor="y",
               title=dict(text=X_LABEL, font=dict(size=19), standoff=13)),
    yaxis=dict(axis_style, domain=y_dom, anchor="x",
               title=dict(text=Y_LABEL, font=dict(size=19), standoff=16)),
    xaxis2=dict(axis_style, domain=dom_r, anchor="y2",
                title=dict(text=X_LABEL, font=dict(size=19), standoff=13)),
    yaxis2=dict(axis_style, domain=y_dom, anchor="x2",
                title=dict(text=Y_LABEL, font=dict(size=19), standoff=16)),
)

annotations = [dict(text="<b>%s</b>" % SUPTITLE, x=px_x(785), y=px_y(30), xref="paper", yref="paper",
                    showarrow=False, font=dict(size=26), xanchor="center", yanchor="middle")]
shapes = []
for i, (xa, ya, dom) in enumerate([("x", "y", dom_l), ("x2", "y2", dom_r)]):
    annotations.append(dict(text="<b>%s</b>" % PANEL_TITLES[i], x=(dom[0] + dom[1]) / 2,
                            y=px_y(115), xref="paper", yref="paper", showarrow=False,
                            font=dict(size=21), xanchor="center", yanchor="middle"))
    annotations.append(dict(text="<b>%s</b>" % TAIL_LABEL, x=0.0, y=TAIL_Q, xref=xa, yref=ya,
                            showarrow=False, font=dict(size=15, color="#ff8c00"),
                            xanchor="left", yanchor="top", xshift=-5, yshift=2))
    shapes.append(dict(type="rect", xref=xa, yref=ya, x0=0, x1=TAIL_Q, y0=0, y1=TAIL_Q,
                       fillcolor="rgba(255,140,0,0.15)", line=dict(width=0), layer="below"))
    shapes.append(dict(type="line", xref=xa, yref=ya + " domain", x0=TAIL_Q, x1=TAIL_Q, y0=0, y1=1,
                       line=dict(color="#808080", width=1.3, dash="5px,3px")))
    shapes.append(dict(type="line", xref=xa + " domain", yref=ya, x0=0, x1=1, y0=TAIL_Q, y1=TAIL_Q,
                       line=dict(color="#808080", width=1.3, dash="5px,3px")))

fig.update_layout(annotations=annotations, shapes=shapes)
fig.write_html("out.html")
